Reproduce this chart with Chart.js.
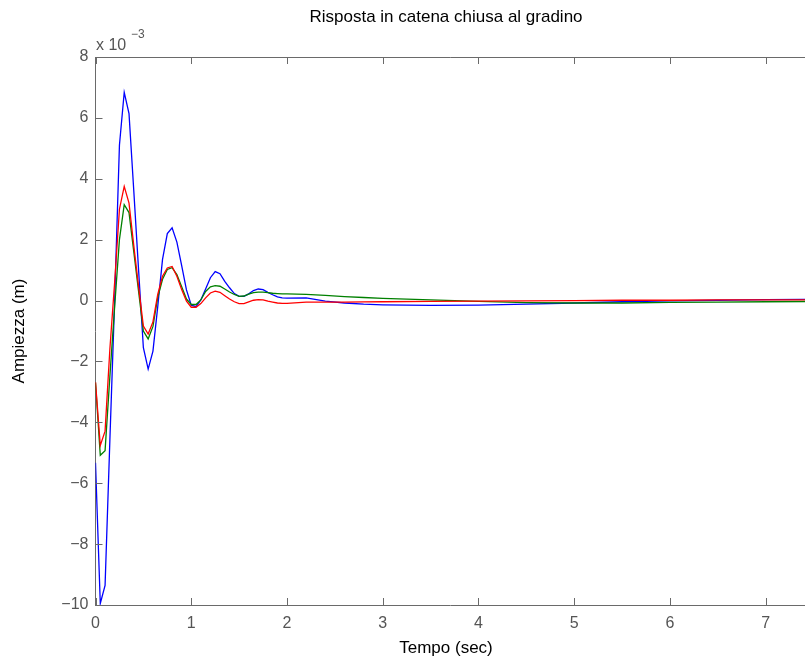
<!DOCTYPE html>
<html>
<head>
<meta charset="utf-8">
<script src="https://cdn.jsdelivr.net/npm/chart.js@4"></script>
<style>
  html, body { margin: 0; padding: 0; background: #fff; }
  #wrap { width: 805px; height: 661px; }
</style>
</head>
<body>
<div id="wrap"><canvas id="grafico" width="805" height="661"></canvas></div>
<script>
// tempo (s) e risposte al gradino (x 10^-3 m)
var tempo = [0, 0.05, 0.1, 0.15, 0.2, 0.25, 0.3, 0.35, 0.4, 0.45,
  0.5, 0.55, 0.6, 0.65, 0.7, 0.75, 0.8, 0.85, 0.9, 0.95,
  1.0, 1.05, 1.1, 1.15, 1.2, 1.25, 1.3, 1.35, 1.4, 1.45,
  1.5, 1.55, 1.6, 1.65, 1.7, 1.75, 1.8, 1.85, 1.9, 1.95,
  2.0, 2.2, 2.4, 2.6, 2.8, 3.0, 3.5, 4.0, 4.5, 5.0, 5.5, 6.0, 6.5, 7.0, 7.5];

var rispostaBlu = [-5.33, -9.95, -9.36, -4.6, 0.0, 5.1, 6.84, 6.14, 3.6, 1.0,
  -1.55, -2.25, -1.66, -0.2, 1.35, 2.2, 2.39, 1.92, 1.15, 0.35,
  -0.15, -0.2, 0.02, 0.38, 0.75, 0.95, 0.88, 0.63, 0.42, 0.23,
  0.14, 0.14, 0.22, 0.33, 0.38, 0.36, 0.27, 0.19, 0.12, 0.09,
  0.08, 0.09, -0.02, -0.08, -0.12, -0.14, -0.16, -0.15, -0.12, -0.08, -0.04, -0.01, 0.01, 0.03, 0.04];

var rispostaVerde = [-2.7, -5.08, -4.93, -2.5, -0.2, 2.0, 3.15, 2.89, 1.6, 0.3,
  -1.0, -1.26, -0.85, 0.1, 0.7, 1.02, 1.08, 0.85, 0.45, 0.05,
  -0.13, -0.13, 0.02, 0.3, 0.45, 0.49, 0.47, 0.38, 0.28, 0.2,
  0.14, 0.15, 0.21, 0.26, 0.28, 0.28, 0.26, 0.24, 0.23, 0.22,
  0.22, 0.2, 0.17, 0.13, 0.1, 0.07, 0.02, -0.03, -0.07, -0.08, -0.08, -0.06, -0.05, -0.04, -0.03];

var rispostaRossa = [-2.68, -4.76, -4.29, -1.6, 0.6, 3.0, 3.75, 3.2, 1.8, 0.45,
  -0.84, -1.1, -0.7, 0.2, 0.8, 1.07, 1.12, 0.8, 0.36, -0.02,
  -0.22, -0.22, -0.1, 0.09, 0.25, 0.31, 0.27, 0.16, 0.05, -0.04,
  -0.1, -0.1, -0.04, 0.01, 0.03, 0.02, -0.02, -0.05, -0.08, -0.09,
  -0.09, -0.05, -0.05, -0.05, -0.045, -0.04, -0.03, -0.02, -0.01, 0.0, 0.01, 0.01, 0.02, 0.02, 0.02];

var tickY = [-10, -8, -6, -4, -2, 0, 2, 4, 6, 8];
var tickX = [0, 1, 2, 3, 4, 5, 6, 7];

var FONT = "'Liberation Sans', Arial, Helvetica, sans-serif";
var AXIS = '#6a6a6a';

function punti(valori){
  var out = [];
  for (var i = 0; i < tempo.length; i++) out.push({x: tempo[i], y: valori[i]});
  return out;
}

function meno(v){
  return v < 0 ? '\u2212' + Math.abs(v) : '' + v;
}

// bordo superiore, tacche verso l'interno e testi in stile matlab
var stileMatlab = {
  id: 'stileMatlab',
  afterDatasetsDraw: function(chart){
    var c = chart.ctx, a = chart.chartArea;
    var sx = chart.scales.x, sy = chart.scales.y;
    c.save();
    c.strokeStyle = AXIS;
    c.lineWidth = 1;
    c.beginPath();
    c.moveTo(a.left, a.top + 0.5);
    c.lineTo(a.right, a.top + 0.5);
    tickX.forEach(function(t){
      var px = Math.round(sx.getPixelForValue(t)) + 0.5;
      c.moveTo(px, a.bottom); c.lineTo(px, a.bottom - 7);
      c.moveTo(px, a.top); c.lineTo(px, a.top + 7);
    });
    tickY.forEach(function(v){
      var py = Math.round(sy.getPixelForValue(v)) + 0.5;
      c.moveTo(a.left, py); c.lineTo(a.left + 7, py);
    });
    c.stroke();

    c.fillStyle = '#000';
    c.textAlign = 'center';
    c.textBaseline = 'middle';
    c.font = '17px ' + FONT;
    c.fillText('Risposta in catena chiusa al gradino', 446, 17);
    c.fillText('Tempo (sec)', 446, 648);

    c.save();
    c.translate(19, 331);
    c.rotate(-Math.PI / 2);
    c.fillText('Ampiezza (m)', 0, 0);
    c.restore();

    c.fillStyle = '#555';
    c.textAlign = 'left';
    c.textBaseline = 'alphabetic';
    c.font = '16px ' + FONT;
    c.fillText('x 10', 96, 50);
    c.font = '12px ' + FONT;
    c.fillText('\u22123', 131, 38);
    c.restore();
  }
};

var ctx = document.getElementById('grafico').getContext('2d');
var grafico = new Chart(ctx, {
  type: 'line',
  data: {
    datasets: [{
      data: punti(rispostaBlu),
      borderColor: '#0000ff',
      order: 2
    }, {
      data: punti(rispostaVerde),
      borderColor: '#008000',
      order: 1
    }, {
      data: punti(rispostaRossa),
      borderColor: '#ff0000',
      order: 0
    }]
  },
  options: {
    responsive: false,
    animation: false,
    layout: { padding: { top: 57, right: 0, left: 0, bottom: 0 } },
    elements: {
      point: { radius: 0 },
      line: { borderWidth: 1.3, tension: 0 }
    },
    plugins: {
      legend: { display: false },
      tooltip: { enabled: false },
      title: { display: false }
    },
    scales: {
      x: {
        type: 'linear',
        min: 0,
        max: 7.41,
        afterFit: function(s){ s.height = 56; },
        grid: { display: false, drawTicks: false },
        border: { display: true, color: AXIS, width: 1 },
        ticks: {
          stepSize: 1,
          includeBounds: false,
          padding: 9,
          color: '#555',
          font: { family: FONT, size: 16 },
          maxRotation: 0
        }
      },
      y: {
        min: -10,
        max: 8,
        afterFit: function(s){ s.width = 95.5; },
        grid: { display: false, drawTicks: false },
        border: { display: true, color: AXIS, width: 1 },
        ticks: {
          stepSize: 2,
          padding: 7,
          color: '#555',
          font: { family: FONT, size: 16 },
          callback: function(v){ return meno(v); }
        }
      }
    }
  },
  plugins: [stileMatlab]
});
</script>
</body>
</html>
